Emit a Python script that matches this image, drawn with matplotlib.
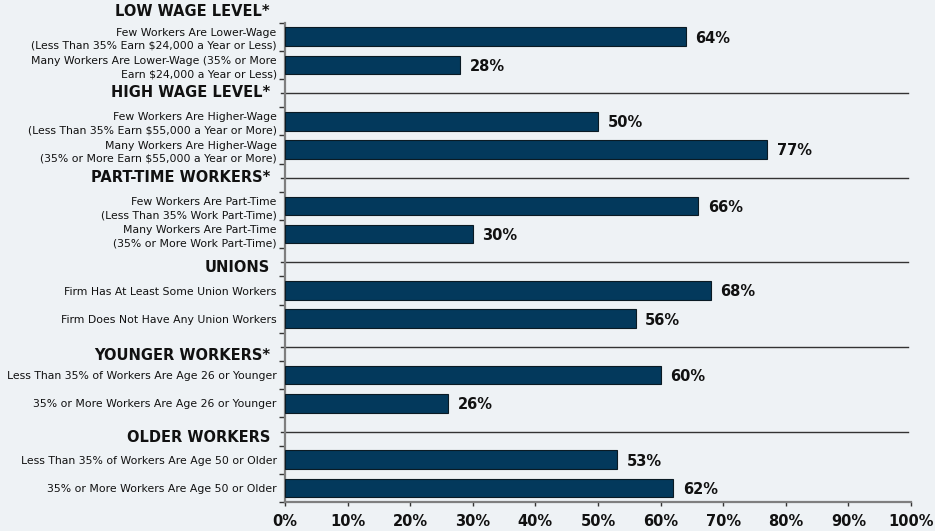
import matplotlib
matplotlib.use("Agg")
import matplotlib.pyplot as plt
import matplotlib.transforms as mtransforms
import numpy as np

# Workforce characteristics: group titles, bar labels and shares
group_titles = [
    "LOW WAGE LEVEL*",
    "HIGH WAGE LEVEL*",
    "PART-TIME WORKERS*",
    "UNIONS",
    "YOUNGER WORKERS*",
    "OLDER WORKERS",
]
group_labels = [
    ["Few Workers Are Lower-Wage\n(Less Than 35% Earn \\$24,000 a Year or Less)",
     "Many Workers Are Lower-Wage (35% or More\nEarn \\$24,000 a Year or Less)"],
    ["Few Workers Are Higher-Wage\n(Less Than 35% Earn \\$55,000 a Year or More)",
     "Many Workers Are Higher-Wage\n(35% or More Earn \\$55,000 a Year or More)"],
    ["Few Workers Are Part-Time\n(Less Than 35% Work Part-Time)",
     "Many Workers Are Part-Time\n(35% or More Work Part-Time)"],
    ["Firm Has At Least Some Union Workers",
     "Firm Does Not Have Any Union Workers"],
    ["Less Than 35% of Workers Are Age 26 or Younger",
     "35% or More Workers Are Age 26 or Younger"],
    ["Less Than 35% of Workers Are Age 50 or Older",
     "35% or More Workers Are Age 50 or Older"],
]
group_values = [
    [64, 28],
    [50, 77],
    [66, 30],
    [68, 56],
    [60, 26],
    [53, 62],
]
x_ticks = [0, 10, 20, 30, 40, 50, 60, 70, 80, 90, 100]

BG = "#EEF2F5"
BAR = "#03395C"
TEXT = "#111111"

plt.rcParams["font.family"] = ["DejaVu Sans"]

fig = plt.figure(figsize=(9.35, 5.31), dpi=100, facecolor=BG)
ax = fig.add_axes([285 / 935, 29 / 531, (911 - 285) / 935, (502 - 22.7) / 531])
ax.set_facecolor(BG)

# Lay out rows: each group after the first gets a header row above its bars
rows_y, rows_val, rows_lab = [], [], []
header_rows = []
r = 0
for gi, (labs, vals) in enumerate(zip(group_labels, group_values)):
    if gi > 0:
        header_rows.append(r)
        r += 1
    else:
        header_rows.append(-1)
    for lab, v in zip(labs, vals):
        rows_y.append(r)
        rows_val.append(v)
        rows_lab.append(lab)
        r += 1
n_rows = r

ax.barh(rows_y, rows_val, height=0.66, color=BAR, edgecolor="#0a1a24",
        linewidth=0.8, zorder=3)

for y, v in zip(rows_y, rows_val):
    ax.annotate(f"{v}%", xy=(v, y), xytext=(7, -1), textcoords="offset points",
                ha="left", va="center", fontsize=10.5, fontweight="bold",
                color=TEXT)

ax.set_xlim(0, 100)
ax.set_ylim(n_rows - 0.5, -0.5)

ax.set_yticks(rows_y)
ax.set_yticklabels(rows_lab, fontsize=7.85, color=TEXT, linespacing=1.4)
ax.set_yticks(np.arange(-0.5, n_rows, 1.0), minor=True)
ax.tick_params(axis="y", which="major", length=0, pad=6)
ax.tick_params(axis="y", which="minor", length=4, width=1, color="#333333")

ax.set_xticks(x_ticks)
ax.set_xticklabels([f"{t}%" for t in x_ticks], fontsize=10.5,
                   fontweight="bold", color=TEXT)
ax.tick_params(axis="x", which="major", length=3, width=1, color="#333333", pad=6)

for side in ("top", "right"):
    ax.spines[side].set_visible(False)
for side in ("left", "bottom"):
    ax.spines[side].set_color("#7f7f7f")
    ax.spines[side].set_linewidth(1.6)

# Group titles and separator lines
trans = mtransforms.blended_transform_factory(ax.transAxes, ax.transData)
title_shift = [0.1, -0.04, 0.0, 0.2, 0.3, 0.23]
for title, hr, sh in zip(group_titles, header_rows, title_shift):
    ax.text(-0.024, hr + sh, title, transform=trans, ha="right", va="center",
            fontsize=10.5, fontweight="bold", color=TEXT, clip_on=False)
    if hr >= 0:
        ax.plot([-0.007, 0.996], [hr, hr], transform=trans, color="#333333",
                linewidth=1.0, clip_on=False, zorder=2)

fig.savefig("out.png", dpi=100, facecolor=BG)
